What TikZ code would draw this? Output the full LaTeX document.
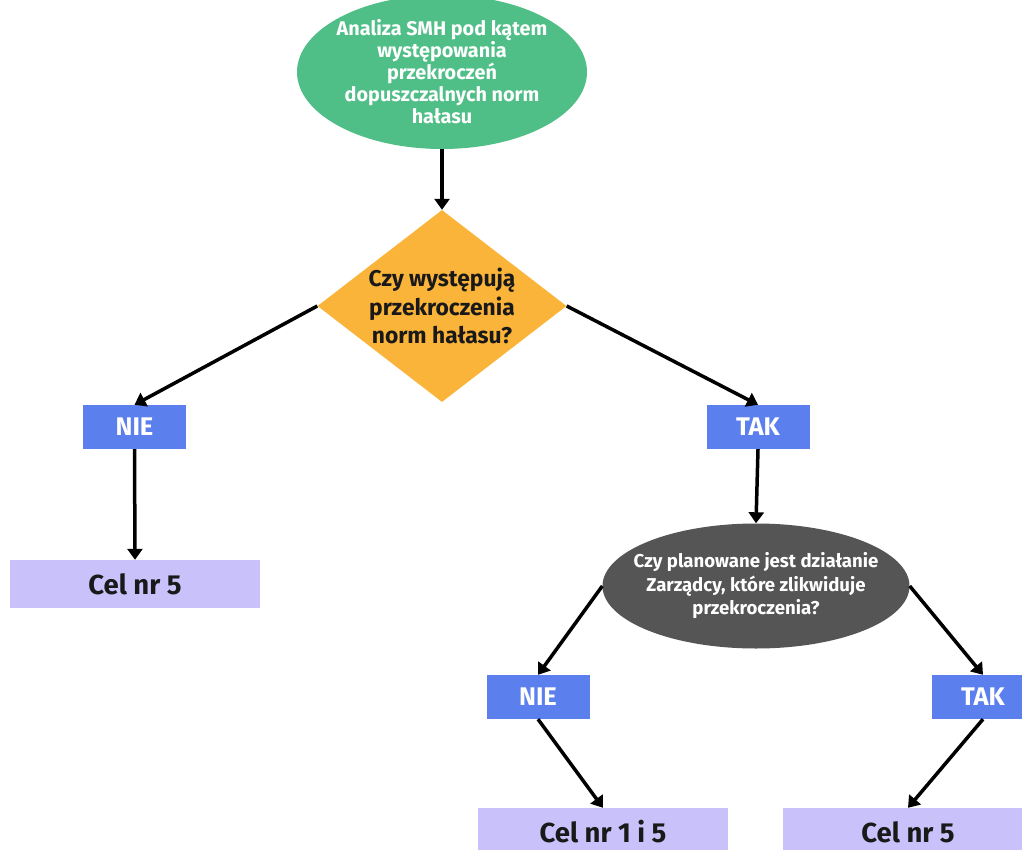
\documentclass[tikz,border=0pt]{standalone}
\usepackage{fontspec}
\setmainfont{Fira Sans}
\usetikzlibrary{shapes.geometric,arrows.meta}
\definecolor{startgreen}{HTML}{50BE87}
\definecolor{askorange}{HTML}{FBB43A}
\definecolor{ansblue}{HTML}{5C7FEE}
\definecolor{goallav}{HTML}{C9C1FA}
\definecolor{askdark}{HTML}{555555}
\tikzset{
  startell/.style={ellipse,fill=startgreen,text=white,minimum width=290pt,
    minimum height=154pt,inner sep=-25pt,align=center,
    font=\fontsize{19.8}{22}\selectfont\bfseries},
  question/.style={diamond,fill=askorange,text=black!90,minimum width=249pt,
    minimum height=192pt,inner sep=-40pt,align=center,
    font=\fontsize{22.8}{28.5}\selectfont\bfseries},
  askell/.style={ellipse,fill=askdark,text=white,minimum width=307pt,
    minimum height=125pt,inner sep=-25pt,align=center,
    font=\fontsize{18.6}{23.5}\selectfont\bfseries},
  answer/.style={rectangle,fill=ansblue,text=white,minimum width=103pt,
    minimum height=44pt,inner sep=0pt,font=\fontsize{25.5}{28}\selectfont\bfseries},
  goal/.style={rectangle,fill=goallav,text=black!90,minimum width=250pt,
    minimum height=48pt,inner sep=0pt,font=\fontsize{27.5}{30}\selectfont\bfseries},
  arr/.style={-{Triangle[width=15pt,length=11pt]},draw=black,line width=3.5pt},
}
\begin{document}
\begin{tikzpicture}[x=1pt,y=-1pt]
  \useasboundingbox (0,0) rectangle (1022,850);
  \clip (0,0) rectangle (1022,850);
  \fill[white] (0,0) rectangle (1022,850);
  \node[startell] (an) at (442,72) {Analiza SMH pod kątem\\występowania\\przekroczeń\\dopuszczalnych norm\\hałasu};
  \node[question] (q1) at (442,306) {Czy występują\\przekroczenia\\norm hałasu?};
  \node[answer] (nie1) at (134.5,427) {NIE};
  \node[answer] (tak1) at (758,427) {TAK};
  \node[goal] (c5a) at (135,584) {Cel nr 5};
  \node[askell] (q2) at (756,586) {Czy planowane jest działanie\\Zarządcy, które zlikwiduje\\przekroczenia?};
  \node[answer] (nie2) at (538,697) {NIE};
  \node[answer] (tak2) at (983,697) {TAK};
  \node[goal] (c15) at (603,832) {Cel nr 1 i 5};
  \node[goal] (c5b) at (908,832) {Cel nr 5};
  \draw[arr] (an.south) -- (q1.north);
  \draw[arr] (q1.west) -- (nie1.north);
  \draw[arr] (q1.east) -- (tak1.north);
  \draw[arr] (nie1.south) -- (c5a.north);
  \draw[arr] (tak1.south) -- (q2.north);
  \draw[arr] (q2.west) -- (nie2.north);
  \draw[arr] (q2.east) -- (tak2.north);
  \draw[arr] (nie2.south) -- (c15.north);
  \draw[arr] (tak2.south) -- (c5b.north);
\end{tikzpicture}
\end{document}
